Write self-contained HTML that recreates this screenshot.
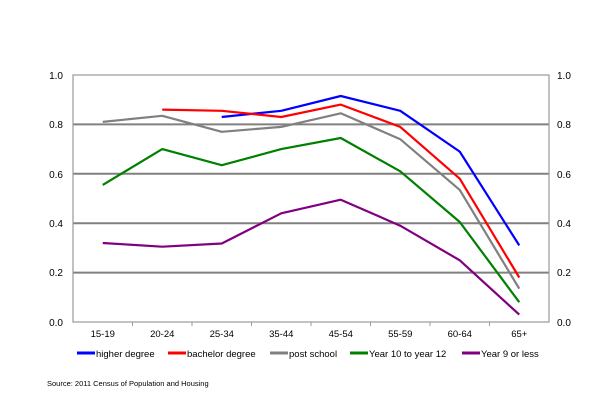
<!DOCTYPE html>
<html><head><style>body{margin:0;background:#fff;}svg{display:block;font-family:"Liberation Sans",Arial,sans-serif;}</style></head><body>
<svg width="615" height="412" viewBox="0 0 615 412">
<g stroke="#808080" stroke-width="2">
<line x1="73" y1="124.4" x2="549" y2="124.4"/><line x1="73" y1="173.8" x2="549" y2="173.8"/>
<line x1="73" y1="223.2" x2="549" y2="223.2"/><line x1="73" y1="272.6" x2="549" y2="272.6"/>
</g>
<rect x="73" y="75" width="476" height="247" fill="none" stroke="#999" stroke-width="1.2"/>
<g stroke="#999" stroke-width="1">
<line x1="132.5" y1="322" x2="132.5" y2="326"/><line x1="192" y1="322" x2="192" y2="326"/><line x1="251.5" y1="322" x2="251.5" y2="326"/><line x1="311" y1="322" x2="311" y2="326"/><line x1="370.5" y1="322" x2="370.5" y2="326"/><line x1="430" y1="322" x2="430" y2="326"/><line x1="489.5" y1="322" x2="489.5" y2="326"/>
</g>
<g font-size="10" fill="#000" text-anchor="end">
<text x="63" y="79">1.0</text><text x="63" y="128">0.8</text><text x="63" y="178">0.6</text><text x="63" y="227">0.4</text><text x="63" y="276">0.2</text><text x="63" y="326">0.0</text>
</g>
<g font-size="10" fill="#000">
<text x="557" y="79">1.0</text><text x="557" y="128">0.8</text><text x="557" y="178">0.6</text><text x="557" y="227">0.4</text><text x="557" y="276">0.2</text><text x="557" y="326">0.0</text>
</g>
<g font-size="9.5" fill="#000" text-anchor="middle">
<text x="102.75" y="337">15-19</text><text x="162.25" y="337">20-24</text><text x="221.75" y="337">25-34</text><text x="281.25" y="337">35-44</text><text x="340.75" y="337">45-54</text><text x="400.25" y="337">55-59</text><text x="459.75" y="337">60-64</text><text x="519.25" y="337">65+</text>
</g>
<g fill="none" stroke-width="2.2" stroke-linejoin="round">
<polyline stroke="#0000ff" points="221.75,117 281.25,110.8 340.75,96 400.25,110.8 459.75,151.6 519.25,245.4"/>
<polyline stroke="#ff0000" points="162.25,109.6 221.75,110.8 281.25,117 340.75,104.6 400.25,126.9 459.75,178.7 519.25,277.5"/>
<polyline stroke="#808080" points="102.75,121.9 162.25,115.8 221.75,131.8 281.25,126.9 340.75,113.3 400.25,139.2 459.75,189.9 519.25,288.7"/>
<polyline stroke="#008000" points="102.75,184.9 162.25,149.1 221.75,165.2 281.25,149.1 340.75,138 400.25,171.3 459.75,222 519.25,302.2"/>
<polyline stroke="#800080" points="102.75,243 162.25,246.7 221.75,243.5 281.25,213.3 340.75,199.7 400.25,225.7 459.75,260.3 519.25,314.6"/>
</g>
<g stroke-width="3">
<line x1="77" y1="353" x2="95" y2="353" stroke="#0000ff"/>
<line x1="168" y1="353" x2="186" y2="353" stroke="#ff0000"/>
<line x1="270" y1="353" x2="288" y2="353" stroke="#808080"/>
<line x1="350" y1="353" x2="368" y2="353" stroke="#008000"/>
<line x1="462" y1="353" x2="480" y2="353" stroke="#800080"/>
</g>
<g font-size="9.5" fill="#000">
<text x="96" y="357">higher degree</text><text x="187" y="357">bachelor degree</text><text x="289" y="357">post school</text><text x="369" y="357">Year 10 to year 12</text><text x="481" y="357">Year 9 or less</text>
</g>
<text x="47" y="386" font-size="7.5" fill="#000">Source: 2011 Census of Population and Housing</text>
</svg>
</body></html>
